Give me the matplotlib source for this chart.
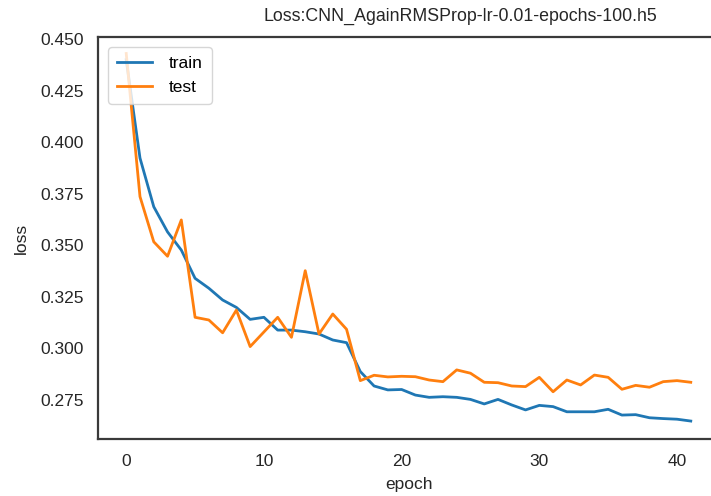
import matplotlib
matplotlib.use("Agg")
import matplotlib.pyplot as plt

plt.rcParams['font.family'] = ['Liberation Sans', 'DejaVu Sans']

epochs = list(range(42))
train = [0.440, 0.3923, 0.3687, 0.3565, 0.3477, 0.3340, 0.3292, 0.3235, 0.3199, 0.3141,
         0.3151, 0.3089, 0.3089, 0.3081, 0.3070, 0.3041, 0.3028, 0.2888, 0.2818, 0.2799,
         0.2801, 0.2774, 0.2763, 0.2766, 0.2763, 0.2753, 0.2731, 0.2753, 0.2726, 0.2702,
         0.2724, 0.2718, 0.2693, 0.2693, 0.2693, 0.2705, 0.2677, 0.2679, 0.2664, 0.2660,
         0.2657, 0.2648]
test = [0.443, 0.3736, 0.3517, 0.3447, 0.3623, 0.3151, 0.3138, 0.3076, 0.3186, 0.3009,
        0.3080, 0.3151, 0.3054, 0.3377, 0.3070, 0.3167, 0.3093, 0.2844, 0.2870, 0.2862,
        0.2865, 0.2863, 0.2847, 0.2839, 0.2896, 0.2880, 0.2836, 0.2834, 0.2818, 0.2815,
        0.2860, 0.2790, 0.2847, 0.2823, 0.2871, 0.2860, 0.2802, 0.2821, 0.2812, 0.2839,
        0.2844, 0.2836]
title = 'Loss:CNN_AgainRMSProp-lr-0.01-epochs-100.h5'

fig = plt.figure(figsize=(7.11, 4.96), dpi=100)
ax = fig.add_axes([98/711, 57/496, 621/711, 402/496])

ax.plot(epochs, train, color='#1f77b4', lw=2.0, label='train')
ax.plot(epochs, test, color='#ff7f0e', lw=2.0, label='test')

ax.set_xlim(-2.05, 43.05)
ax.set_ylim(0.2561, 0.4510)
ax.set_xticks([0, 10, 20, 30, 40])
ax.set_yticks([0.275, 0.300, 0.325, 0.350, 0.375, 0.400, 0.425, 0.450])
ax.set_yticklabels([f'{v:.3f}' for v in ax.get_yticks()])

ax.tick_params(length=0, labelsize=12.5, labelcolor='#262626', pad=10.5)
for s in ax.spines.values():
    s.set_color('#3a3a3a')
    s.set_linewidth(1.6)

ax.set_xlabel('epoch', fontsize=12.5, color='#262626', labelpad=6)
ax.set_ylabel('loss', fontsize=12.5, color='#262626', labelpad=8)
ax.set_title(title, fontsize=12.8, color='#262626', x=0.583, pad=12)

leg = ax.legend(loc='upper left', fontsize=12.5, frameon=True, fancybox=True,
                edgecolor='#cccccc', framealpha=0.8, borderpad=0.5,
                handletextpad=1.0, borderaxespad=0.6)

fig.savefig('out.png', dpi=100)
